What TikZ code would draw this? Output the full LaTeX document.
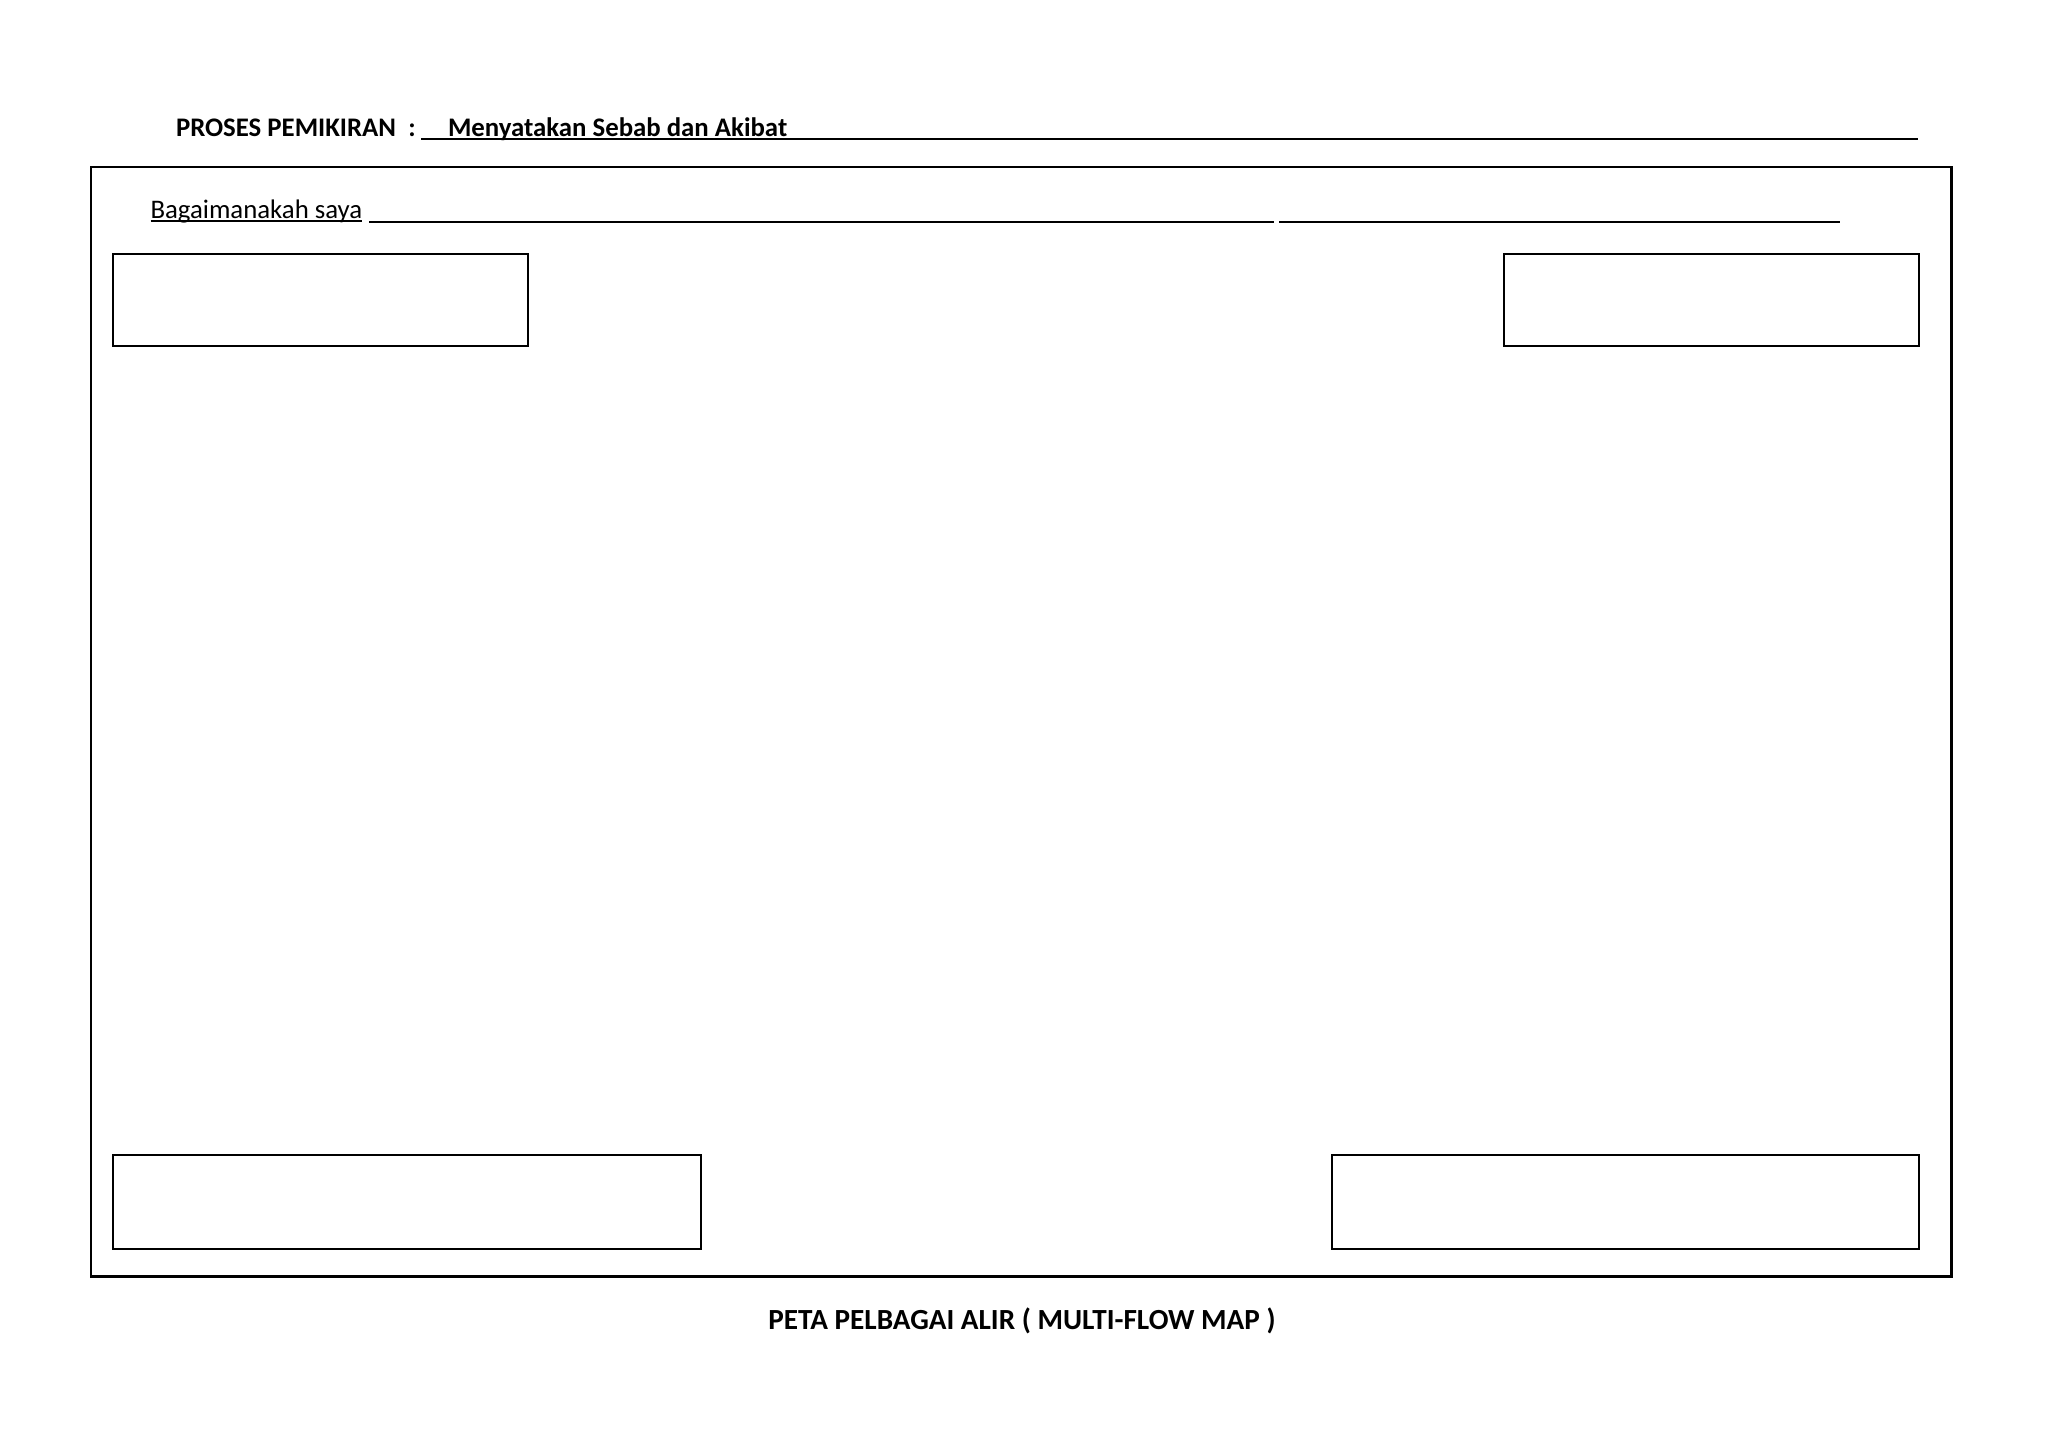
\documentclass[tikz,border=0pt]{standalone}
\usepackage{fontspec}
\setmainfont{Carlito}
\begin{document}
\begin{tikzpicture}[x=0.5pt,y=-0.5pt,
  box/.style={draw, line width=1pt, inner sep=0pt, outer sep=0pt},
  txt/.style={inner sep=0pt, outer sep=0pt, anchor=base west},
  rule/.style={line width=1pt}]
\useasboundingbox (0,0) rectangle (2048,1447);
% header
\node[txt, font=\fontsize{13.4}{16}\selectfont\bfseries] (head) at (176,136) {PROSES PEMIKIRAN\ \ :};
\node[txt, font=\fontsize{13.4}{16}\selectfont\bfseries] (headval) at (448,136) {Menyatakan Sebab dan Akibat};
\coordinate (hl1) at (421,139);
\coordinate (hl2) at (1918,139);
\draw[rule] (hl1) -- (hl2);
% frame
\node[box, line width=1.2pt, minimum width=930.25pt, minimum height=554.75pt] (frame) at (1021.25,721.75) {};
% question line
\node[txt, font=\fontsize{13.4}{16}\selectfont] (q) at (150.5,218) {Bagaimanakah saya};
\coordinate (ql0) at (150.5,221);
\coordinate (ql1) at (362,221);
\coordinate (ql2) at (369,221.8);
\coordinate (ql3) at (1273.5,221.8);
\coordinate (ql4) at (1279,221.8);
\coordinate (ql5) at (1840,221.8);
\draw[line width=0.8pt] (ql0) -- (ql1);
\draw[rule] (ql2) -- (ql3);
\draw[rule] (ql4) -- (ql5);
% boxes
\node[box, minimum width=207.5pt, minimum height=46pt] (tl) at (320.5,300) {};
\node[box, minimum width=207.5pt, minimum height=46pt] (tr) at (1711.5,300) {};
\node[box, minimum width=294pt, minimum height=47pt] (bl) at (407,1202) {};
\node[box, minimum width=293.5pt, minimum height=47pt] (br) at (1625.5,1202) {};
% footer
\node[inner sep=0pt, anchor=base, font=\fontsize{14.6}{18}\selectfont\bfseries] (foot) at (1022,1329) {PETA PELBAGAI ALIR ( MULTI-FLOW MAP )};
\end{tikzpicture}
\end{document}
